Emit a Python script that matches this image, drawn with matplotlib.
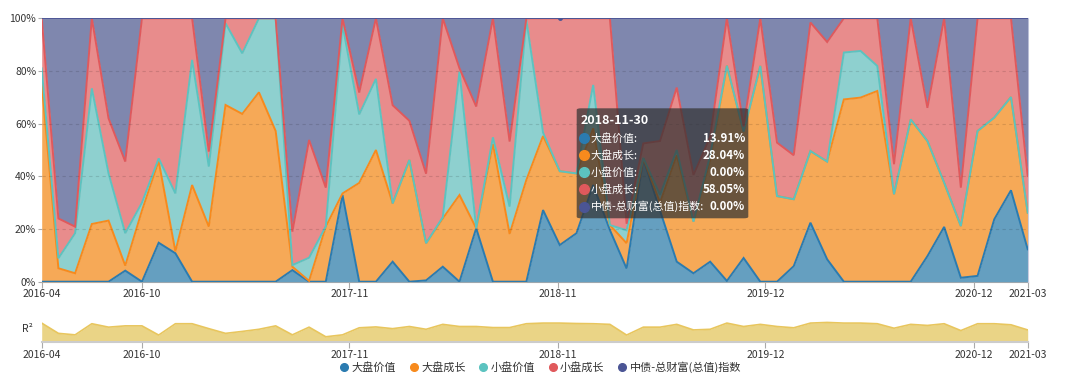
import numpy as np
import pandas as pd
import matplotlib
matplotlib.use('Agg')
import matplotlib.pyplot as plt
from matplotlib.patches import FancyBboxPatch
from matplotlib.lines import Line2D

plt.rcParams['font.family'] = ['Noto Sans CJK SC', 'DejaVu Sans']

# monthly data, 2016-04 .. 2021-03
months = pd.period_range('2016-04', '2021-03', freq='M')
names = ['大盘价值', '大盘成长', '小盘价值', '小盘成长', '中债-总财富(总值)指数']

large_value = [0, 0, 0, 0, 0, 4.2, 0, 14.8, 10.8, 0,
               0, 0, 0, 0, 0, 4.4, 0, 0, 32.9, 0,
               0, 7.6, 0, 0.5, 5.7, 0, 20.3, 0, 0, 0,
               27.2, 13.91, 18.4, 36.7, 19.6, 5, 46.8, 27, 7.6, 3.2,
               7.6, 0.3, 9, 0, 0, 5.9, 22.4, 8.5, 0, 0,
               0, 0, 0, 9.7, 20.8, 1.5, 2.2, 23.7, 34.7, 12.3]
large_growth = [75.3, 5.1, 3.2, 21.9, 23.2, 1.9, 27, 31.0, 0.7, 36.7,
                20.9, 67.1, 63.7, 71.9, 57.2, 1.3, 0.3, 20.9, 0.6, 37.5,
                50, 22.1, 46.2, 14.1, 18.3, 32.9, 0, 52.3, 18.1, 38.6,
                28.1, 28.04, 22.7, 21.5, 1.9, 9.6, 0, 3, 40.4, 19.6,
                38.4, 81.7, 48, 81.9, 32.5, 25.4, 27.2, 37.1, 69.2, 69.9,
                72.4, 33.2, 61.6, 43.7, 16.8, 19.6, 55, 38.6, 35.4, 13.9]
small_value = [5.7, 3.8, 15.2, 51.5, 17.9, 12.3, 3, 1.0, 22.0, 47.5,
               22.8, 31.0, 23.0, 28.1, 42.8, 0.6, 8.8, 0.1, 64.0, 26.0,
               27, 0, 0, 0, 0.5, 46.8, 0, 2.5, 10.4, 60.8,
               1.3, 0, 0, 16.5, 0, 4.9, 0.2, 3, 2, 0,
               2, 0, 0, 0, 0, 0, 0, 0, 17.8, 17.7,
               9.5, 0, 0, 0, 0, 0, 0, 0, 0, 0]
small_growth = [19.0, 15.1, 2.5, 26.6, 20.9, 27.2, 70, 53.2, 66.5, 15.8,
                5.7, 1.9, 13.3, 0, 0, 12.7, 44.7, 14.7, 2.5, 8.3,
                23, 37.3, 14.9, 26.4, 75.5, 1.3, 46.2, 45.2, 24.7, 0.6,
                43.4, 58.05, 58.9, 25.3, 78.5, 2.5, 5.5, 20.4, 23.7, 17.7,
                7, 18, 2, 18.1, 20.3, 16.7, 48.8, 45.4, 13, 12.4,
                18.1, 11.4, 38.4, 12.6, 62.4, 14.6, 42.8, 37.7, 29.9, 13.9]
bond = [0, 76, 79.1, 0, 38, 54.4, 0, 0, 0, 0,
        50.6, 0, 0, 0, 0, 81, 46.2, 64.3, 0, 28.2,
        0, 33, 38.9, 59, 0, 19, 33.5, 0, 46.8, 0,
        0, 0, 0, 0, 0, 78, 47.5, 46.6, 26.3, 59.5,
        45, 0, 41, 0, 47.2, 52, 1.6, 9, 0, 0,
        0, 55.4, 0, 34, 0, 64.3, 0, 0, 0, 59.9]

r2 = [0.87, 0.39, 0.32, 0.84, 0.68, 0.74, 0.74, 0.31, 0.84, 0.84,
      0.61, 0.39, 0.48, 0.58, 0.74, 0.32, 0.68, 0.23, 0.32, 0.65,
      0.69, 0.61, 0.71, 0.58, 0.81, 0.71, 0.71, 0.66, 0.66, 0.84,
      0.87, 0.87, 0.85, 0.84, 0.81, 0.31, 0.68, 0.68, 0.81, 0.55,
      0.58, 0.87, 0.71, 0.81, 0.71, 0.65, 0.87, 0.90, 0.87, 0.87,
      0.84, 0.63, 0.81, 0.76, 0.84, 0.52, 0.84, 0.84, 0.79, 0.55]

tick_labels = ['2016-04', '2016-10', '2017-11', '2018-11', '2019-12', '2020-12', '2021-03']
tick_pos = [0, 5.98, 18.41, 30.88, 43.3, 55.8, 59]
hover = 31

line_colors = ['#2b7bb0', '#f78a1d', '#5cc3c0', '#e0595c', '#4b5595']
fill_colors = ['#659fc0', '#f6a957', '#8ed0cf', '#e88c8c', '#7f87ae']

W, H = 1080, 386
fig = plt.figure(figsize=(W / 100, H / 100), dpi=100)

def box(x0, x1, ytop, ybot):
    return [x0 / W, 1 - ybot / H, (x1 - x0) / W, (ybot - ytop) / H]

ax = fig.add_axes(box(41.7, 1027.7, 18.3, 281.7))
x = np.arange(len(months))
series = [large_value, large_growth, small_value, small_growth, bond]
stack = np.cumsum(np.array(series, dtype=float), axis=0)
base = np.zeros(len(x))
for k in range(5):
    ax.fill_between(x, base, stack[k], color=fill_colors[k], lw=0, zorder=1 + k)
    base = stack[k]
for k in range(5):
    ax.plot(x, stack[k], color=line_colors[k], lw=1.4, zorder=7 + k, solid_joinstyle='miter')

for v in [20, 40, 60, 80]:
    ax.axhline(v, color=(0, 0, 0, 0.12), lw=0.8, ls=(0, (3, 3)), zorder=20)
ax.plot(hover, stack[4][hover], 'o', ms=2.5, color=line_colors[4], zorder=21)

ax.set_xlim(0, 59)
ax.set_ylim(0, 100)
ax.set_yticks([0, 20, 40, 60, 80, 100])
ax.set_yticklabels(['%d%%' % v for v in [0, 20, 40, 60, 80, 100]])
ax.set_xticks(tick_pos)
ax.set_xticklabels(tick_labels)
for s in ['top', 'left']:
    ax.spines[s].set_visible(False)
ax.spines['right'].set_color('#c9cce0')
ax.spines['right'].set_linewidth(0.8)
ax.spines['bottom'].set_color('#aaaaaa')
ax.spines['bottom'].set_zorder(0)
ax.tick_params(axis='x', length=4, width=0.8, color='#aaaaaa', labelsize=7.5,
               labelcolor='#333333', pad=1.5)
ax.tick_params(axis='y', length=3, width=0.8, color='#aaaaaa', labelsize=7.5,
               labelcolor='#333333', pad=1)

# R² panel
ax2 = fig.add_axes(box(41.7, 1027.7, 320.3, 341.7))
ax2.fill_between(x, 0, r2, color='#ead486', lw=0)
ax2.plot(x, r2, color='#e8c65e', lw=1.2)
ax2.set_xlim(0, 59)
ax2.set_ylim(0, 1)
ax2.set_yticks([])
ax2.set_xticks(tick_pos)
ax2.set_xticklabels(tick_labels)
for s in ['top', 'left', 'right']:
    ax2.spines[s].set_visible(False)
ax2.spines['bottom'].set_color('#cccccc')
ax2.spines['bottom'].set_linewidth(1.5)
ax2.tick_params(axis='x', length=4, width=0.8, color='#aaaaaa', labelsize=7.5,
                labelcolor='#333333', pad=2)
fig.text(27 / W, 1 - 329 / H, 'R²', fontsize=7.5, color='#333333', ha='center', va='center')

# legend
handles = [Line2D([], [], ls='none', marker='o', ms=5.5, color=c) for c in line_colors]
fig.legend(handles, names, loc='center', bbox_to_anchor=(0.5, 1 - 367 / H), ncol=5,
           frameon=False, fontsize=8, handletextpad=0.15, columnspacing=1.1,
           handlelength=1.0, labelcolor='#333333')

# tooltip
tip = FancyBboxPatch((576.7 / W, 1 - 218.3 / H), (748.3 - 576.7) / W, (218.3 - 108.3) / H,
                     boxstyle='round,pad=0,rounding_size=0.004', transform=fig.transFigure,
                     facecolor=(0.2, 0.2, 0.2, 0.72), edgecolor='none', zorder=30)
fig.patches.append(tip)
fig.text(580.7 / W, 1 - 120.7 / H, months[hover].end_time.strftime('%Y-%m-%d'),
         color='white', fontsize=9, fontweight='bold', va='center', zorder=31)
row_y = [138.3, 155.2, 172.0, 189.3, 206.7]
for k in range(5):
    yy = 1 - row_y[k] / H
    fig.add_artist(Line2D([584 / W], [yy], marker='o', ms=7, color=line_colors[k],
                          transform=fig.transFigure, zorder=31))
    fig.text(590.5 / W, yy, names[k] + ':', color='white', fontsize=7.9, va='center', zorder=31)
    fig.text(745 / W, yy, '%.2f%%' % series[k][hover], color='white', fontsize=8.3,
             fontweight='bold', va='center', ha='right', zorder=31)

fig.savefig('out.png', dpi=100)
